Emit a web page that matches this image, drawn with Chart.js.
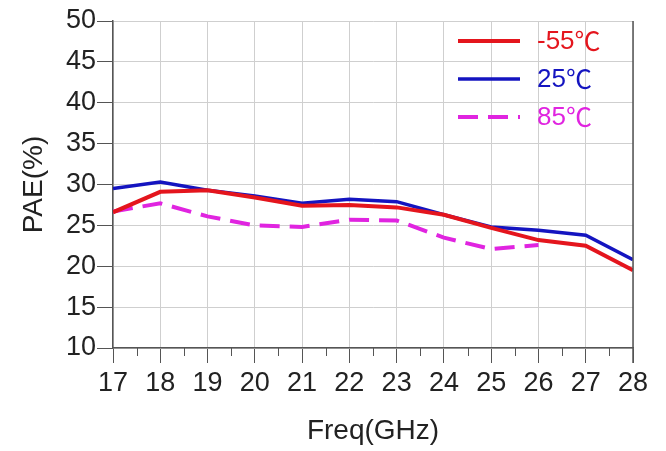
<!DOCTYPE html>
<html>
<head>
<meta charset="utf-8">
<script src="https://cdn.jsdelivr.net/npm/chart.js@4"></script>
<style>
  html, body { margin: 0; padding: 0; background: #fff; }
  #wrap { width: 666px; height: 451px; }
</style>
</head>
<body>
<div id="wrap"><canvas id="c" width="666" height="451"></canvas></div>
<script>
// Frequency points (GHz)
const freqs = [17, 18, 19, 20, 21, 22, 23, 24, 25, 26, 27, 28];
// PAE (%) per temperature
const paeMinus55 = [26.6, 29.1, 29.3, 28.4, 27.4, 27.5, 27.2, 26.3, 24.7, 23.2, 22.5, 19.5];
const pae25      = [29.5, 30.3, 29.3, 28.6, 27.7, 28.2, 27.9, 26.3, 24.8, 24.4, 23.8, 20.8];
const pae85      = [26.7, 27.7, 26.1, 25.0, 24.8, 25.7, 25.6, 23.5, 22.1, 22.6, null, null];
const tempLabels = ['-55', '25', '85'];
const tempUnit = '\u2103';
const yTicks = [10, 15, 20, 25, 30, 35, 40, 45, 50];

const FONT = '"Liberation Sans", Arial, sans-serif';
const CJK_FONT = '"Noto Sans CJK SC", sans-serif';
const AXIS_COLOR = '#555';

const toPoints = arr => freqs.map((f, i) => ({ x: f, y: arr[i] }));

// Half-step minor ticks under the x axis, plus the right frame line
const minorTicks = {
  id: 'minorTicks',
  afterDraw(chart) {
    const { ctx, scales: { x }, chartArea } = chart;
    ctx.save();
    ctx.strokeStyle = AXIS_COLOR;
    ctx.lineWidth = 1;
    for (let v = freqs[0] + 0.5; v < freqs[freqs.length - 1]; v += 1) {
      const px = Math.round(x.getPixelForValue(v)) + 0.5;
      ctx.beginPath();
      ctx.moveTo(px, chartArea.bottom);
      ctx.lineTo(px, chartArea.bottom + 8);
      ctx.stroke();
    }
    ctx.lineWidth = 1.5;
    ctx.beginPath();
    ctx.moveTo(chartArea.right, chartArea.top);
    ctx.lineTo(chartArea.right, chartArea.bottom + 15);
    ctx.stroke();
    ctx.restore();
  }
};

// Legend drawn inside the plot, top right
const insideLegend = {
  id: 'insideLegend',
  afterDatasetsDraw(chart) {
    const { ctx } = chart;
    const rows = [41, 79, 117];
    ctx.save();
    chart.data.datasets.forEach((ds, i) => {
      const y = rows[i];
      ctx.strokeStyle = ds.borderColor;
      ctx.lineWidth = ds.borderWidth;
      ctx.setLineDash(ds.borderDash || []);
      ctx.beginPath();
      ctx.moveTo(458, y);
      ctx.lineTo(520, y);
      ctx.stroke();
      ctx.setLineDash([]);
      ctx.fillStyle = ds.borderColor;
      ctx.textBaseline = 'middle';
      ctx.textAlign = 'left';
      ctx.font = '26px ' + FONT;
      ctx.fillText(tempLabels[i], 537, y + 1);
      const w = ctx.measureText(tempLabels[i]).width;
      ctx.font = '26px ' + CJK_FONT;
      ctx.fillText(tempUnit, 537 + w, y);
    });
    ctx.restore();
  }
};

new Chart(document.getElementById('c'), {
  type: 'line',
  data: {
    datasets: [
      { label: tempLabels[0] + tempUnit, data: toPoints(paeMinus55), borderColor: '#e4151d', borderWidth: 4, pointRadius: 0, tension: 0 },
      { label: tempLabels[1] + tempUnit, data: toPoints(pae25), borderColor: '#1414c0', borderWidth: 3.5, pointRadius: 0, tension: 0 },
      { label: tempLabels[2] + tempUnit, data: toPoints(pae85), borderColor: '#e024e0', borderWidth: 4, borderDash: [20, 10], pointRadius: 0, tension: 0 }
    ]
  },
  options: {
    responsive: false,
    animation: false,
    layout: { padding: { left: 0, top: 21, right: 33, bottom: 0 } },
    plugins: { legend: { display: false }, tooltip: { enabled: false } },
    scales: {
      x: {
        type: 'linear',
        min: freqs[0],
        max: freqs[freqs.length - 1],
        afterBuildTicks(scale) { scale.ticks = freqs.map(v => ({ value: v })); },
        afterFit(scale) { scale.height = 103; },
        ticks: { color: '#222', font: { family: FONT, size: 27 }, padding: 4, maxRotation: 0, autoSkip: false },
        grid: { color: '#cfcfcf', lineWidth: 1, tickLength: 15, tickColor: AXIS_COLOR },
        border: { color: AXIS_COLOR, width: 1.5 },
        title: { display: true, text: 'Freq(GHz)', color: '#222', font: { family: FONT, size: 28 }, padding: { top: 0, bottom: 3 } }
      },
      y: {
        min: yTicks[0],
        max: yTicks[yTicks.length - 1],
        afterBuildTicks(scale) { scale.ticks = yTicks.map(v => ({ value: v })); },
        afterFit(scale) { scale.width = 113; },
        ticks: { color: '#222', font: { family: FONT, size: 27 }, padding: 1 },
        grid: { color: '#cfcfcf', lineWidth: 1, tickLength: 16, tickColor: AXIS_COLOR },
        border: { color: AXIS_COLOR, width: 1.5 },
        title: { display: true, text: 'PAE(%)', color: '#222', font: { family: FONT, size: 28 }, padding: { top: 17, bottom: 0 } }
      }
    }
  },
  plugins: [minorTicks, insideLegend]
});
</script>
</body>
</html>
